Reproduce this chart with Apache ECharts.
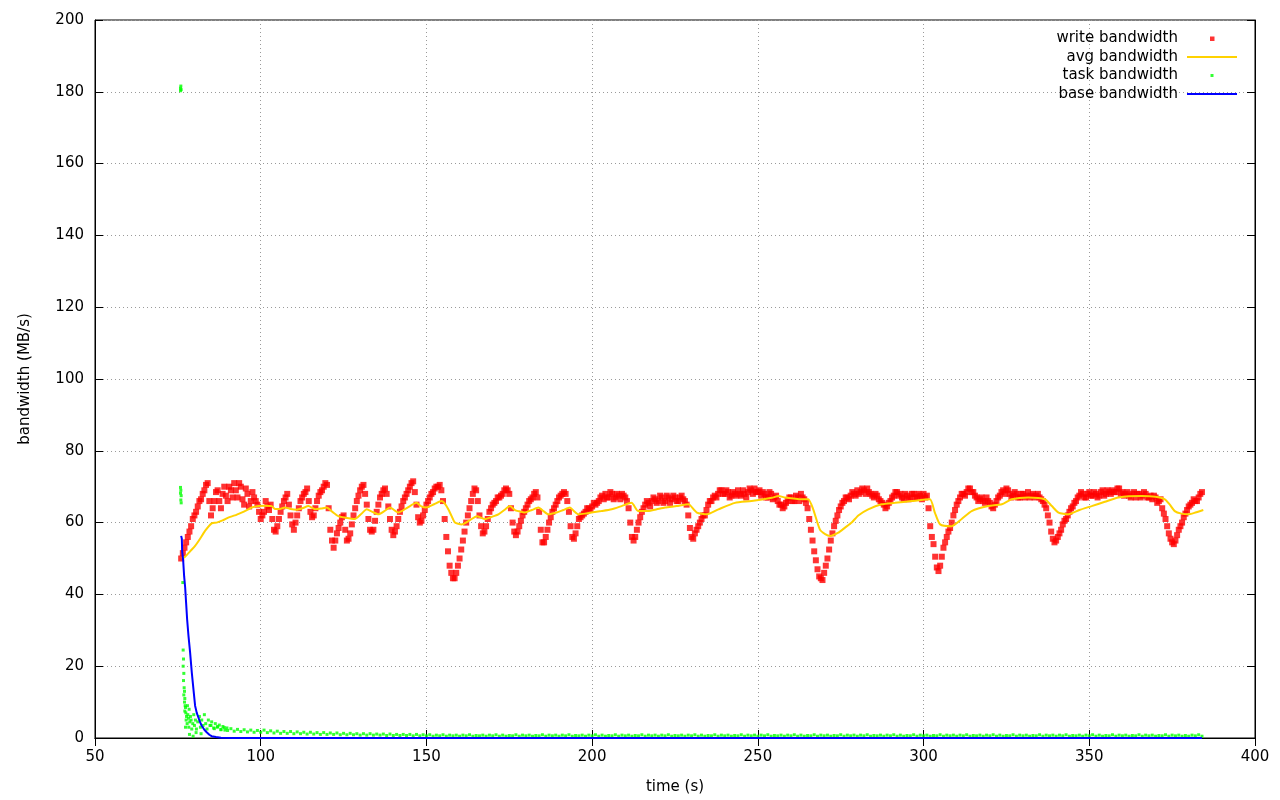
<!DOCTYPE html>
<html>
<head>
<meta charset="utf-8">
<script src="https://cdn.jsdelivr.net/npm/echarts@6/dist/echarts.min.js"></script>
<style>
html,body{margin:0;padding:0;background:#fff;}
#chart{width:1280px;height:800px;}
</style>
</head>
<body>
<div id="chart"></div>
<script>
// ---- data ----
const xTicks = [50, 100, 150, 200, 250, 300, 350, 400];
const yTicks = [0, 20, 40, 60, 80, 100, 120, 140, 160, 180, 200];
const seriesNames = ['write bandwidth', 'avg bandwidth', 'task bandwidth', 'base bandwidth'];

// write bandwidth, samples on whole seconds starting at t = 76 s
const writeStart = 76;
const writeBw = [
  50,53,56,59,
  62,64.5,66.5,69,71,62,66,69,64,70,
  66,69,71,67,70,65,68,66,67,65,
  61,63,64.5,65,58,59,63,66,68,62,
  58,62,66,68,69.5,63,62,66,68.5,70,
  70.5,58,53,57,60,62,55,57,62,66,
  69,70.5,65,58,58,63,67,69,68,61,
  56.5,59,63,66,68,70,71.5,65,60,62,
  65,67,68.5,70,70.5,66,56,48,44.5,46,
  50,55,60,64,68,69,62,57,59,63,
  65,66,67,68,69.5,68,60,56.5,59,62,
  64,66,67,68.5,63,54.5,56,60,63,65,
  67,68,68,63,56,57,61,62,63,64,
  64.5,65,66,67.5,68,67,68,67,67.5,68,
  67,64,56,56,60,63,65,65.5,66,66.5,
  66,67,66,67,66.5,67,66,67.5,66,62,
  56,57,59,61,62,65,66,67.5,68,69,
  68,68.5,67.5,68,69,67.5,68,68.5,69,69.5,
  68.5,67.5,68,67,68,67,66,65,64.5,66,
  67,66,67,68,66.5,64,58,52,47,44.5,
  46,50,55,59,62,64.5,66,67,67.5,68,
  69,68.5,69,69.5,68,67,67.5,66,65,64.5,
  66,67.5,68.5,68,66.5,67.5,67,68,67,67.5,
  68,67.5,59,54,47.5,48,53,56,58.5,62,
  65,67,68,68.5,69.5,68.5,67,66.5,66,67,
  65.5,64,66,67.5,69,69.5,68,67.5,68,67,
  68,67.5,67,68,67.5,67,66,64,60,55.5,
  55,57,59.5,61,63,64.5,66,67.5,68,67,
  68.5,67.5,68,67.5,69,68,68.5,69,68.5,69.5,
  68.5,68,67.5,68,67,68,67.5,68,67,66.5,
  67,66,64,61,57,54.5,55,58,60,62.5,
  64.5,65.5,66,67,68.5
];
// write bandwidth, samples on half seconds starting at t = 76.5 s
const writeHalfStart = 76.5;
const writeBwHalf = [
  51.5,54.5,57.5,61,
  63,66,68,70.5,66,64,68.5,66,68,67.5,
  70,67,69,71,66.5,69.5,64.5,68.5,66,63,
  62,66,63.5,61,57.5,61,64.5,67,65,59.5,
  60,64,67,68.5,66,61.5,64,67.5,69,71,
  64,55,55,58.5,61.5,58,55.5,59.5,64,67.5,
  70,68,61,57.5,60.5,65,68,69.5,64.5,58,
  57.5,61,64.5,67,69,71,68.5,61.5,60.5,63.5,
  66,68,69.5,70,69,61,52,46,44.5,48,
  52.5,57.5,62,66,69.5,66,59,57.5,61,64,
  65.5,67,67.5,69,69,64,57.5,57.5,60.5,63,
  65,66.5,68,67,58,54.5,58,61.5,64,66,
  67.5,68.5,66,59,55.5,59,61.5,62.5,64,63.5,
  65.5,65.5,67,66.5,67,68.5,66.5,68,66.5,67.5,
  66,60,55,58,61.5,64,66,64.5,67,65.5,
  67.5,65.5,67.5,65.5,67.5,66,67,66.5,65,58.5,
  55.5,58,60,62,63.5,66,67,67,69,68,
  69,67,68.5,67.5,68,69,67,69.5,68,68.5,
  69,68.5,67,68.5,66.5,67.5,65,64,65.5,67,
  66,67.5,66,67,65.5,61,55,49.5,45,44,
  48,52.5,57,60.5,63.5,65.5,67,66.5,68.5,67.5,
  68,69.5,68,68.5,67.5,68,66.5,65.5,64,65.5,
  67,68.5,67.5,67,68,66.5,68,67,68,66.5,
  67,64,56,50.5,46.5,50.5,54.5,57.5,60,63.5,
  66,68,67.5,69.5,68.5,67.5,66,67,65.5,66,
  64.5,65,67,68.5,68,69,67,68.5,67,68,
  67,68.5,67.5,67,68,66.5,65,62,57.5,54.5,
  56,58,60.5,62,64,65.5,67,68.5,67,68,
  67.5,68.5,67,68.5,67.5,69,68,68.5,69.5,68,
  67.5,68.5,67,68.5,68,67,68.5,67,67.5,67.5,
  65.5,66.5,62.5,59,55.5,54,56.5,59,61.5,63.5,
  65,66.5,66,68
];

// avg bandwidth [time, MB/s]
const avgBw = [
  [76.2,50],[77.2,50.5],[78.7,52],[80.2,53.5],[81.7,55.5],[83.2,57.7],[85.2,59.8],[86.7,60],
  [88.5,60.6],[90.2,61.4],[92.2,62],[94.2,62.8],[95.8,63.5],[97.3,64.2],[99.3,64.6],[101.3,64.7],
  [103.3,64.6],[104.3,63.8],[105.8,63.8],[107.3,64.2],[109,63.8],[110.8,63.6],[112.6,64],[114.4,64.6],
  [116.4,63.7],[118.2,63.9],[119.9,64.2],[121.6,63],[123.4,61.8],[125.4,61.4],[128.4,61],[130.2,62.3],
  [132,63.7],[133.7,63],[135.5,62.3],[137.3,63.2],[139,64.2],[141.5,62.8],[144.3,64.2],[147,65.5],
  [148.5,64.5],[150,64.2],[152.3,65.1],[154.6,66],[155.6,65.2],[156.6,63.7],[157.6,61.8],[158.6,60],
  [160.6,59.5],[163,60.6],[165.2,61.8],[167.7,61],[169.7,61.6],[171.7,62.3],[173.5,63.5],[175.2,64.6],
  [176.7,63.5],[177.7,63.2],[179.7,62.8],[181.8,63.5],[183.8,64.2],[185.3,63.2],[186.8,62.3],[189.3,62.8],
  [191.3,63.5],[193.3,64.2],[194.5,63.2],[195.8,62.3],[197.8,62.5],[199.8,62.8],[202.8,63.2],[205.9,63.7],
  [208.9,64.6],[211.9,65.5],[213.9,63.2],[216.9,63.2],[219.5,63.7],[222,64.2],[225.5,64.6],[229,65.1],
  [229.6,64.8],[231.6,62.8],[234.6,62.3],[238.1,63.7],[243.1,65.5],[248.1,66],[254.2,66.9],[256.2,67.4],
  [258.2,67],[263.2,66.5],[265.2,66.5],[266.7,63.7],[268.7,58.1],[270.3,56.8],[271.8,56.3],[274.3,57.2],
  [276.3,58.6],[278.3,60],[280.3,62],[283.3,63.7],[287.3,65.1],[291.4,65.5],[296.4,66],[301.9,66.5],
  [303.4,62.8],[305,59.5],[308.5,59],[311.5,61],[314.5,63.2],[319.5,64.6],[323.6,65.1],[326.6,66.5],
  [331.6,67],[336.6,66.5],[338.7,64.6],[340.7,62.8],[343.7,62.3],[347,63.5],[350.7,64.6],[354.7,65.8],
  [358.8,67],[365.8,67.4],[370,67.2],[372.8,66.5],[374.3,65],[375.8,63.2],[377.8,62.5],[379.8,62.3],
  [382,62.8],[384.4,63.5]
];

// task bandwidth: early cloud of samples [time, MB/s]
const taskCloud = [
  [75.8,180.3],[75.8,181],[75.9,181.6],[76,180.6],
  [75.8,69.8],[75.9,69],[75.8,68.2],[76,67.5],[75.9,66.3],[76,65.5],[76.5,43.3],
  [76.6,24.5],[76.7,22],[76.6,20],[76.8,18],[76.7,16],[76.9,14],[77,13],[76.8,12],[77.1,11],
  [77,10],[77.2,9],[77.3,8.5],[77.1,7.5],[77.4,7],[77.6,6],[77.5,5],[77.8,4],[77.3,3],[77.9,9],
  [78,6.5],[78.2,5.5],[78.4,8],[78.3,3],[78.6,4.5],[78.8,6],[79,5],[79.2,2.5],[79.5,4],[79.8,6.5],
  [80,3.5],[80.3,5],[80.6,2.5],[81,4.5],[81.5,6],[81.8,3],[82.2,5],[82.6,3.5],[83,6.5],[83.4,4],
  [83.8,2.5],[84.2,5],[84.7,3.5],[85.2,4.5],[85.8,2.8],[86.3,4],[86.9,3],[87.5,3.6],[88,2.4],
  [88.6,3.2],[89.2,2.2],[89.8,2.8],[80.5,1.5],[82,1.2],[78.5,1],[79.6,0.5]
];
// task bandwidth tail, one sample per second from t = 85 s to 384 s
const taskTailStart = 85;
const taskTail = [
  3.5,2.6,3.2,2.3,2.9,2.1,2.6,1.9,2.4,1.8,2.3,1.7,2.2,1.6,2.1,
  1.6,2.2,1.5,2.0,1.4,1.9,1.3,1.8,1.3,1.8,1.2,1.7,1.2,1.6,1.1,
  1.6,1.1,1.5,1.0,1.5,1.0,1.4,1.0,1.4,0.9,1.3,0.9,1.3,0.9,1.2,
  0.8,1.2,0.8,1.2,0.8,1.1,0.8,1.1,0.7,1.1,0.7,1.0,0.7,1.0,0.7,
  1.0,0.6,1.0,0.6,0.9,
  0.6,0.9,0.5,0.8,0.6,0.9,0.5,0.8,0.6,0.8,
  0.5,0.8,0.6,0.9,0.5,0.7,0.6,0.8,0.5,0.8,
  0.6,0.9,0.5,0.8,0.5,0.7,0.6,0.9,0.5,0.8,
  0.6,0.8,0.5,0.7,0.6,0.9,0.5,0.8,0.6,0.8,
  0.5,0.8,0.6,0.9,0.5,0.7,0.6,0.8,0.5,0.8,
  0.6,0.9,0.5,0.8,0.5,0.7,0.6,0.9,0.5,0.8,
  0.6,0.8,0.5,0.7,0.6,0.9,0.5,0.8,0.6,0.8,
  0.5,0.8,0.6,0.9,0.5,0.7,0.6,0.8,0.5,0.8,
  0.6,0.9,0.5,0.8,0.5,0.7,0.6,0.9,0.5,0.8,
  0.6,0.8,0.5,0.7,0.6,0.9,0.5,0.8,0.6,0.8,
  0.5,0.8,0.6,0.9,0.5,0.7,0.6,0.8,0.5,0.8,
  0.6,0.9,0.5,0.8,0.5,0.7,0.6,0.9,0.5,0.8,
  0.6,0.8,0.5,0.7,0.6,0.9,0.5,0.8,0.6,0.8,
  0.5,0.8,0.6,0.9,0.5,0.7,0.6,0.8,0.5,0.8,
  0.6,0.9,0.5,0.8,0.5,0.7,0.6,0.9,0.5,0.8,
  0.6,0.8,0.5,0.7,0.6,0.9,0.5,0.8,0.6,0.8,
  0.5,0.8,0.6,0.9,0.5,0.7,0.6,0.8,0.5,0.8,
  0.6,0.9,0.5,0.8,0.5,0.7,0.6,0.9,0.5,0.8,
  0.6,0.8,0.5,0.7,0.6,0.9,0.5,0.8,0.6,0.8,
  0.5,0.8,0.6,0.9,0.5,0.7,0.6,0.8,0.5,0.8,
  0.6,0.9,0.5,0.8,0.5,0.7,0.6,0.9,0.5,0.8,
  0.6,0.8,0.5,0.7,0.6,0.9,0.5,0.8,0.6,0.8,
  0.5,0.7,0.6,0.9,0.5,0.8,0.6,0.8,0.5,0.7,
  0.5,0.8,0.6,0.9,0.5
];

// base bandwidth [time, MB/s]
const baseBw = [
  [76.0,56.3],[76.2,55.5],[76.3,52],[76.6,49.5],[76.9,45],[77.2,42],[77.5,37.5],[77.8,33],
  [78.2,28.5],[78.7,23.8],[79.2,18.3],[79.7,13.6],[80.2,9],[80.7,7],[81.2,5.7],[81.7,4.4],
  [82.2,3.4],[83,2.3],[83.7,1.6],[84.5,0.9],[85.2,0.5],[86.5,0.25],[88,0.1],[92,0],[384,0]
];

// ---- chart ----
const FONT = 'DejaVu Sans';
const writeData = writeBw.map((v, i) => [writeStart + i, v])
  .concat(writeBwHalf.map((v, i) => [writeHalfStart + i, v]))
  .sort((a, b) => a[0] - b[0]);
const taskData = taskCloud.concat(taskTail.map((v, i) => [taskTailStart + i, v]));

const chart = echarts.init(document.getElementById('chart'), null, {renderer: 'canvas'});
const dotted = {color: '#9a9a9a', width: 1, type: [1, 3]};
const tick = {show: true, inside: true, length: 8, lineStyle: {color: '#000', width: 1}};
const axisLine = {show: true, lineStyle: {color: '#000', width: 1}};
const labelStyle = {color: '#000', fontSize: 15, fontFamily: FONT};

chart.setOption({
  animation: false,
  backgroundColor: '#fff',
  textStyle: {fontFamily: FONT},
  grid: {left: 95, right: 25, top: 20, bottom: 61, show: true, borderColor: '#000', borderWidth: 1, backgroundColor: 'transparent'},
  legend: {
    orient: 'vertical', right: 38, top: 26, align: 'right', itemGap: 3.5,
    itemWidth: 54, itemHeight: 10, selectedMode: false,
    textStyle: {color: '#000', fontSize: 15, fontFamily: FONT},
    itemStyle: {borderWidth: 0},
    data: [
      {name: seriesNames[0], icon: 'path://M0,0M54,10M27,3h4.5v4.5h-4.5z'},
      {name: seriesNames[1], icon: 'path://M0,0M54,10M4,4h50v2h-50z'},
      {name: seriesNames[2], icon: 'path://M0,0M54,10M27.5,3.5h3v3h-3z'},
      {name: seriesNames[3], icon: 'path://M0,0M54,10M4,4h50v2h-50z'}
    ]
  },
  xAxis: [{
    type: 'value', position: 'bottom', min: xTicks[0], max: xTicks[xTicks.length - 1],
    interval: xTicks[1] - xTicks[0],
    name: 'time (s)', nameLocation: 'middle', nameGap: 42,
    nameTextStyle: labelStyle,
    axisLine: axisLine, axisTick: tick,
    axisLabel: Object.assign({margin: 12}, labelStyle),
    splitLine: {show: true, lineStyle: dotted}
  }, {
    type: 'value', position: 'top', min: xTicks[0], max: xTicks[xTicks.length - 1],
    interval: xTicks[1] - xTicks[0],
    axisLine: axisLine, axisTick: tick, axisLabel: {show: false}, splitLine: {show: false}
  }],
  yAxis: [{
    type: 'value', position: 'left', min: yTicks[0], max: yTicks[yTicks.length - 1],
    interval: yTicks[1] - yTicks[0],
    name: 'bandwidth (MB/s)', nameLocation: 'middle', nameGap: 62, nameRotate: 90,
    nameTextStyle: labelStyle,
    axisLine: axisLine, axisTick: tick,
    axisLabel: Object.assign({margin: 11}, labelStyle),
    splitLine: {show: true, lineStyle: dotted}
  }, {
    type: 'value', position: 'right', min: yTicks[0], max: yTicks[yTicks.length - 1],
    interval: yTicks[1] - yTicks[0],
    axisLine: axisLine, axisTick: tick, axisLabel: {show: false}, splitLine: {show: false}
  }],
  series: [{
    name: seriesNames[0], type: 'scatter', data: writeData,
    symbol: 'rect', symbolSize: 6, itemStyle: {color: '#ff0000'}, z: 2
  }, {
    name: seriesNames[1], type: 'line', data: avgBw, smooth: 0.2,
    showSymbol: false, symbol: 'none', color: '#ffd200',
    lineStyle: {color: '#ffd200', width: 2}, itemStyle: {color: '#ffd200'}, z: 3
  }, {
    name: seriesNames[2], type: 'scatter', data: taskData,
    symbol: 'rect', symbolSize: 3, itemStyle: {color: '#00ff00'}, z: 4
  }, {
    name: seriesNames[3], type: 'line', data: baseBw,
    showSymbol: false, symbol: 'none', color: '#0000ff',
    lineStyle: {color: '#0000ff', width: 2}, itemStyle: {color: '#0000ff'}, z: 5
  }]
});
</script>
</body>
</html>
